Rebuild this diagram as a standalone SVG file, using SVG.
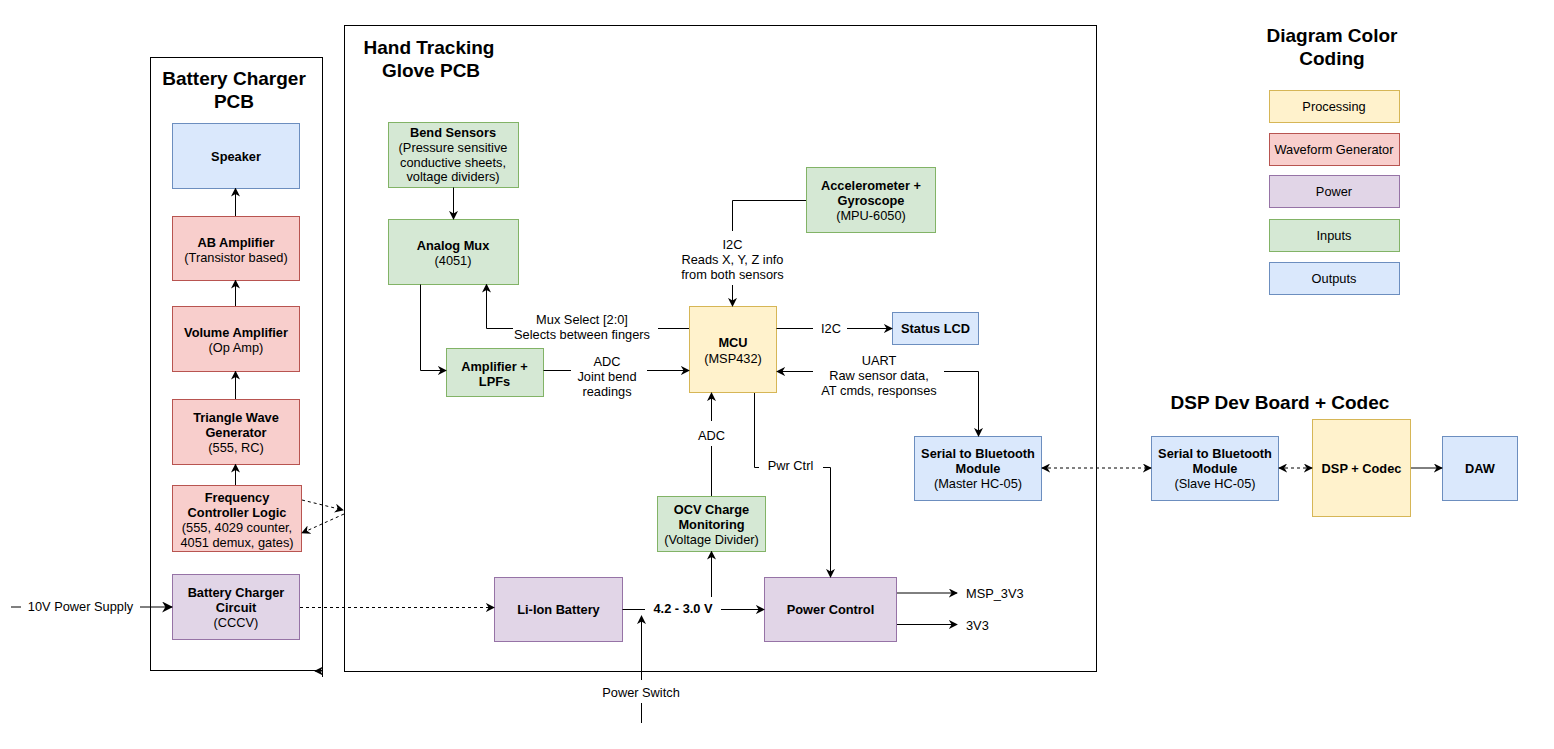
<svg xmlns="http://www.w3.org/2000/svg" width="1554" height="749" viewBox="0 0 1554 749">
<style>
text{font-family:"Liberation Sans",Arial,sans-serif;font-size:12.8px;fill:#000;text-anchor:middle}
.b{font-weight:bold}
.t{font-weight:bold;font-size:19px}
.l{text-anchor:start}
.cont{fill:none;stroke:#000;stroke-width:1}
.y{fill:#fff2cc;stroke:#d6b656}
.r{fill:#f8cecc;stroke:#b85450}
.p{fill:#e1d5e7;stroke:#9673a6}
.g{fill:#d5e8d4;stroke:#82b366}
.u{fill:#dae8fc;stroke:#6c8ebf}
.e{fill:none;stroke:#000;stroke-width:1}
.d{stroke-dasharray:3 3}
.a{marker-end:url(#arr)}
.s{marker-start:url(#arr)}
</style>
<defs>
<marker id="arr" viewBox="0 0 10 10" refX="9" refY="5" markerWidth="9" markerHeight="9" markerUnits="userSpaceOnUse" orient="auto-start-reverse">
<path d="M0,0 L10,5 L0,10 L3,5 z" fill="#000"/>
</marker>
<marker id="arrB" viewBox="0 0 10 10" refX="9" refY="5" markerWidth="11" markerHeight="11" markerUnits="userSpaceOnUse" orient="auto">
<path d="M0,0 L10,5 L0,10 L3,5 z" fill="#000"/>
</marker>
</defs>

<g id="battery-charger-pcb">
<rect class="cont" x="150.5" y="57.5" width="172" height="613"/>
<line class="e" x1="322.5" y1="670" x2="322.5" y2="677"/>
<text class="t" x="234" y="85">Battery Charger</text>
<text class="t" x="234" y="108">PCB</text>
</g>
<g id="hand-tracking-pcb">
<rect class="cont" x="344.5" y="25.5" width="752" height="646"/>
<text class="t" x="429" y="54">Hand Tracking</text>
<text class="t" x="431" y="77">Glove PCB</text>
</g>
<g id="dsp-title"><text class="t" x="1280" y="409">DSP Dev Board + Codec</text></g>
<g id="legend">
<text class="t" x="1332" y="42">Diagram Color</text>
<text class="t" x="1332" y="65">Coding</text>
<rect class="y" x="1269.5" y="90.5" width="130" height="32"/><text x="1334" y="111">Processing</text>
<rect class="r" x="1269.5" y="133.5" width="130" height="32"/><text x="1334" y="154">Waveform Generator</text>
<rect class="p" x="1269.5" y="175.5" width="130" height="32"/><text x="1334" y="196">Power</text>
<rect class="g" x="1269.5" y="219.5" width="130" height="32"/><text x="1334" y="240">Inputs</text>
<rect class="u" x="1269.5" y="262.5" width="130" height="32"/><text x="1334" y="283">Outputs</text>
</g>

<g id="speaker"><rect class="u" x="172.5" y="123.5" width="127" height="65"/><text class="b" x="236" y="161">Speaker</text></g>
<g id="ab-amplifier"><rect class="r" x="172.5" y="216.5" width="127" height="64"/><text class="b" x="236" y="246.5">AB Amplifier</text><text x="236" y="261.5">(Transistor based)</text></g>
<g id="volume-amplifier"><rect class="r" x="172.5" y="306.5" width="127" height="65"/><text class="b" x="236" y="336.5">Volume Amplifier</text><text x="236" y="351.5">(Op Amp)</text></g>
<g id="triangle-wave"><rect class="r" x="172.5" y="399.5" width="127" height="65"/><text class="b" x="236" y="421.5">Triangle Wave</text><text class="b" x="236" y="436.5">Generator</text><text x="236" y="451.5">(555, RC)</text></g>
<g id="frequency-controller"><rect class="r" x="172.5" y="485.5" width="129" height="66"/><text class="b" x="237" y="501.5">Frequency</text><text class="b" x="237" y="516.5">Controller Logic</text><text x="237" y="531.5">(555, 4029 counter,</text><text x="237" y="546.5">4051 demux, gates)</text></g>
<g id="battery-charger-circuit"><rect class="p" x="172.5" y="574.5" width="127" height="65"/><text class="b" x="236" y="597">Battery Charger</text><text class="b" x="236" y="612">Circuit</text><text x="236" y="627">(CCCV)</text></g>

<g id="bend-sensors"><rect class="g" x="388.5" y="122.5" width="130" height="65"/><text class="b" x="453" y="137">Bend Sensors</text><text x="453" y="152">(Pressure sensitive</text><text x="453" y="166.5">conductive sheets,</text><text x="453" y="181">voltage dividers)</text></g>
<g id="analog-mux"><rect class="g" x="388.5" y="219.5" width="130" height="65"/><text class="b" x="453" y="249.5">Analog Mux</text><text x="453" y="264.5">(4051)</text></g>
<g id="amplifier-lpf"><rect class="g" x="446.5" y="348.5" width="97" height="48"/><text class="b" x="494.5" y="371">Amplifier +</text><text class="b" x="494.5" y="385.5">LPFs</text></g>
<g id="mcu"><rect class="y" x="689.5" y="306.5" width="87" height="86"/><text class="b" x="733" y="347">MCU</text><text x="733" y="362.5">(MSP432)</text></g>
<g id="accelerometer"><rect class="g" x="806.5" y="167.5" width="129" height="65"/><text class="b" x="871" y="190">Accelerometer +</text><text class="b" x="871" y="205">Gyroscope</text><text x="871" y="220">(MPU-6050)</text></g>
<g id="status-lcd"><rect class="u" x="892.5" y="312.5" width="86" height="32"/><text class="b" x="935.5" y="333">Status LCD</text></g>
<g id="bt-master"><rect class="u" x="914.5" y="436.5" width="127" height="64"/><text class="b" x="978" y="458">Serial to Bluetooth</text><text class="b" x="978" y="473">Module</text><text x="978" y="488">(Master HC-05)</text></g>
<g id="ocv"><rect class="g" x="657.5" y="496.5" width="108" height="55"/><text class="b" x="711.5" y="514">OCV Charge</text><text class="b" x="711.5" y="529">Monitoring</text><text x="711.5" y="544">(Voltage Divider)</text></g>
<g id="li-ion"><rect class="p" x="494.5" y="577.5" width="128" height="64"/><text class="b" x="558.5" y="614">Li-Ion Battery</text></g>
<g id="power-control"><rect class="p" x="764.5" y="577.5" width="132" height="64"/><text class="b" x="830.5" y="614">Power Control</text></g>
<g id="bt-slave"><rect class="u" x="1151.5" y="436.5" width="127" height="64"/><text class="b" x="1215" y="458">Serial to Bluetooth</text><text class="b" x="1215" y="473">Module</text><text x="1215" y="488">(Slave HC-05)</text></g>
<g id="dsp-codec"><rect class="y" x="1312.5" y="419.5" width="98" height="97"/><text class="b" x="1361.5" y="472.5">DSP + Codec</text></g>
<g id="daw"><rect class="u" x="1442.5" y="436.5" width="75" height="64"/><text class="b" x="1480" y="472.5">DAW</text></g>

<g id="connectors">
<path class="e a" d="M235.5,216 V188.5"/>
<path class="e a" d="M235.5,306 V280.5"/>
<path class="e a" d="M235.5,399 V371.5"/>
<path class="e a" d="M235.5,485 V464.5"/>
<path class="e d a" d="M302,500 L343,510"/>
<path class="e d a" d="M344,514 L302,533"/>
<path class="e a" d="M323,671 H315"/>
<path class="e" d="M11,607 H21" stroke="#555"/>
<path class="e" d="M140,607 H172" stroke-width="2" marker-end="url(#arrB)"/>
<text x="80.5" y="611">10V Power Supply</text>
<path class="e d a" d="M300,607.5 H494"/>

<path class="e a" d="M453.5,187.5 V219"/>
<path class="e a" d="M420.5,284.5 V370.5 H446"/>
<path class="e" d="M543.5,370.5 H571"/>
<path class="e a" d="M647,370.5 H689"/>
<text x="607" y="366">ADC</text><text x="607" y="381">Joint bend</text><text x="607" y="396">readings</text>
<path class="e" d="M689,328.5 H658"/>
<path class="e a" d="M513,328.5 H486.5 V284.5"/>
<text x="582" y="324">Mux Select [2:0]</text><text x="582" y="339">Selects between fingers</text>
<path class="e" d="M806,200.5 H732.5 V231"/>
<path class="e a" d="M732.5,285 V306"/>
<text x="732.5" y="249">I2C</text><text x="732.5" y="264">Reads X, Y, Z info</text><text x="732.5" y="279">from both sensors</text>
<path class="e" d="M776.5,328.5 H813"/>
<path class="e a" d="M847,328.5 H892"/>
<text x="831" y="332.5">I2C</text>
<path class="e s" d="M777,371.5 H813"/>
<path class="e a" d="M944,371.5 H978.5 V436"/>
<text x="879" y="365">UART</text><text x="879" y="380">Raw sensor data,</text><text x="879" y="395">AT cmds, responses</text>
<path class="e" d="M711.5,496 V446"/>
<path class="e a" d="M711.5,421 V393"/>
<text x="711.5" y="440">ADC</text>
<path class="e" d="M754.5,393 V467.5 H759"/>
<path class="e a" d="M823,467.5 H830.5 V577"/>
<text x="790.5" y="469.5">Pwr Ctrl</text>
<path class="e" d="M622.5,609.5 H645"/>
<path class="e a" d="M721,609.5 H764"/>
<text class="b" x="683" y="613">4.2 - 3.0 V</text>
<path class="e a" d="M711.5,597 V551.5"/>
<path class="e" d="M641.5,723 V703"/>
<path class="e a" d="M641.5,680 V616"/>
<text x="641" y="696.5">Power Switch</text>
<path class="e a" d="M897,593 H957"/>
<path class="e a" d="M897,624.5 H957"/>
<text class="l" x="966" y="597.5">MSP_3V3</text>
<text class="l" x="966" y="629.5">3V3</text>
<path class="e d a s" d="M1042,468 H1151"/>
<path class="e d a s" d="M1279,468 H1312"/>
<path class="e a" d="M1411,468 H1442"/>
</g>
</svg>
